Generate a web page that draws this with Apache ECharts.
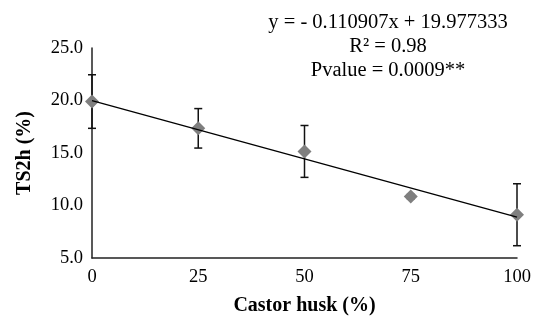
<!DOCTYPE html>
<html>
<head>
<meta charset="utf-8">
<script src="https://cdn.jsdelivr.net/npm/echarts@6/dist/echarts.min.js"></script>
<style>html,body{margin:0;padding:0;background:#fff;}#c{width:541px;height:321px;}</style>
</head>
<body>
<div id="c"></div>
<script>
const husk = [0, 25, 50, 75, 100];
const ts2h = [19.9, 17.35, 15.15, 10.85, 9.12];
const errs = [2.55, 1.88, 2.47, 0.2, 2.95];
const trendX = [0, 100];
const trendY = [19.977, 8.887];
const yTicks = [5, 10, 15, 20, 25];
const xTicks = [0, 25, 50, 75, 100];
const eqLines = ['y = - 0.110907x + 19.977333', 'R\u00b2 = 0.98', 'Pvalue = 0.0009**'];

const FONT = "'Liberation Serif','Times New Roman',serif";
const chart = echarts.init(document.getElementById('c'), null, {renderer: 'canvas'});

const pts = husk.map((x, i) => [x, ts2h[i]]);
const errData = husk.map((x, i) => [x, ts2h[i] - errs[i], ts2h[i] + errs[i]]);
const trend = trendX.map((x, i) => [x, trendY[i]]);

chart.setOption({
  animation: false,
  backgroundColor: '#fff',
  grid: {left: 92, right: 24, top: 48, bottom: 60},
  xAxis: {
    type: 'value', min: xTicks[0], max: xTicks[xTicks.length - 1], interval: 25,
    name: 'Castor husk (%)', nameLocation: 'middle', nameGap: 38,
    nameTextStyle: {fontFamily: FONT, fontWeight: 'bold', fontSize: 20, color: '#000'},
    axisLine: {lineStyle: {color: '#222', width: 1.5}},
    axisTick: {show: false},
    splitLine: {show: false},
    axisLabel: {fontFamily: FONT, fontSize: 18.5, color: '#000', margin: 10}
  },
  yAxis: {
    type: 'value', min: yTicks[0], max: yTicks[yTicks.length - 1], interval: 5,
    name: 'TS2h (%)', nameLocation: 'middle', nameGap: 57,
    nameTextStyle: {fontFamily: FONT, fontWeight: 'bold', fontSize: 20, color: '#000'},
    axisLine: {show: true, lineStyle: {color: '#222', width: 1.5}},
    axisTick: {show: false},
    splitLine: {show: false},
    axisLabel: {fontFamily: FONT, fontSize: 18.5, color: '#000', margin: 9,
      formatter: v => v.toFixed(1)}
  },
  graphic: eqLines.map((t, i) => ({
    type: 'text', x: 388, y: 23 + i * 23.6, z: 100,
    style: {text: t, fontFamily: FONT, fontSize: 20.5, fill: '#000',
      textAlign: 'center', textVerticalAlign: 'middle'}
  })),
  series: [
    {
      type: 'custom', z: 2,
      data: errData,
      renderItem: (params, api) => {
        const x = api.value(0);
        const lo = api.coord([x, api.value(1)]);
        const hi = api.coord([x, api.value(2)]);
        const w = 4;
        const st = {stroke: '#111', lineWidth: 1.5};
        return {type: 'group', children: [
          {type: 'line', shape: {x1: lo[0], y1: lo[1], x2: hi[0], y2: hi[1]}, style: st},
          {type: 'line', shape: {x1: lo[0] - w, y1: lo[1], x2: lo[0] + w, y2: lo[1]}, style: st},
          {type: 'line', shape: {x1: hi[0] - w, y1: hi[1], x2: hi[0] + w, y2: hi[1]}, style: st}
        ]};
      }
    },
    {
      type: 'scatter', z: 3, data: pts, symbol: 'diamond', symbolSize: [14, 14],
      itemStyle: {color: '#7f7f7f', opacity: 1}
    },
    {
      type: 'line', z: 4, data: trend, symbol: 'none',
      lineStyle: {color: '#000', width: 1.3}
    }
  ]
});
</script>
</body>
</html>
